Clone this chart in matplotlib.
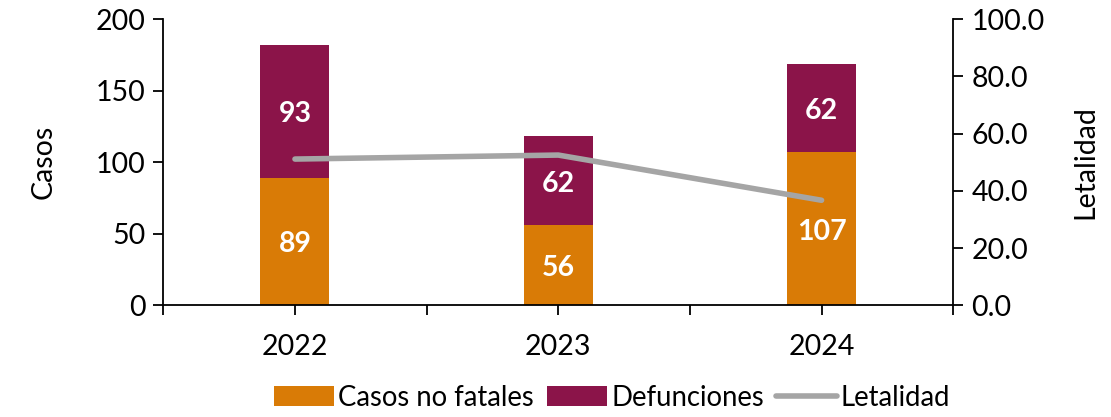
import matplotlib.pyplot as plt
import numpy as np

plt.rcParams['font.family'] = ['Lato', 'DejaVu Sans']
plt.rcParams['font.size'] = 20.5

years = ['2022', '2023', '2024']
no_fatales = [89, 56, 107]
defunciones = [93, 62, 62]
letalidad = [51.1, 52.5, 36.7]

c_orange = '#D97B06'
c_maroon = '#8B1449'
c_gray = '#A5A5A5'

fig = plt.figure(figsize=(11.11, 4.17), dpi=100)
ax1 = fig.add_axes([0.147, 0.268, 0.711, 0.686])
ax2 = ax1.twinx()

x = np.arange(len(years))
w = 0.262
b1 = ax1.bar(x, no_fatales, w, color=c_orange, label='Casos no fatales')
b2 = ax1.bar(x, defunciones, w, bottom=no_fatales, color=c_maroon, label='Defunciones')

for i in range(len(years)):
    ax1.text(x[i], no_fatales[i] / 2 - 2, str(no_fatales[i]), ha='center', va='center',
             color='white', fontweight='bold', fontsize=20.5)
    ax1.text(x[i], no_fatales[i] + defunciones[i] / 2 - 2, str(defunciones[i]), ha='center',
             va='center', color='white', fontweight='bold', fontsize=20.5)

ln, = ax2.plot(x, letalidad, color=c_gray, linewidth=4, solid_capstyle='round', label='Letalidad')

ax1.set_xlim(-0.5, 2.5)
ax1.set_ylim(0, 200)
ax1.set_yticks([0, 50, 100, 150, 200])
ax2.set_ylim(0, 100)
ax2.set_yticks(np.arange(0, 101, 20))
ax2.set_yticklabels(['%.1f' % v for v in np.arange(0, 101, 20)])

ax1.set_xticks(x)
ax1.set_xticklabels(years)
ax1.set_xticks(np.arange(-0.5, 2.6, 1), minor=True)
ax1.tick_params(axis='x', which='both', length=7, width=1.3, pad=14)
ax1.tick_params(axis='x', which='minor', length=7)
ax1.tick_params(axis='y', length=7, width=1.3, pad=6)
ax2.tick_params(axis='y', length=7, width=1.3, pad=6)

for ax in (ax1, ax2):
    ax.spines['top'].set_visible(False)
    for s in ('left', 'right', 'bottom'):
        ax.spines[s].set_linewidth(1.3)
ax1.spines['right'].set_visible(False)
ax2.spines['left'].set_visible(False)
ax2.spines['bottom'].set_visible(False)

ax1.set_ylabel('Casos', labelpad=28)
ax2.set_ylabel('Letalidad', labelpad=20)

fig.legend(handles=[b1, b2, ln], loc='lower center', bbox_to_anchor=(0.551, -0.045), ncol=3,
           frameon=False, handlelength=2.2, handleheight=0.75, handletextpad=0.15,
           columnspacing=0.45, fontsize=19.8)

fig.savefig('out.png', dpi=100)
